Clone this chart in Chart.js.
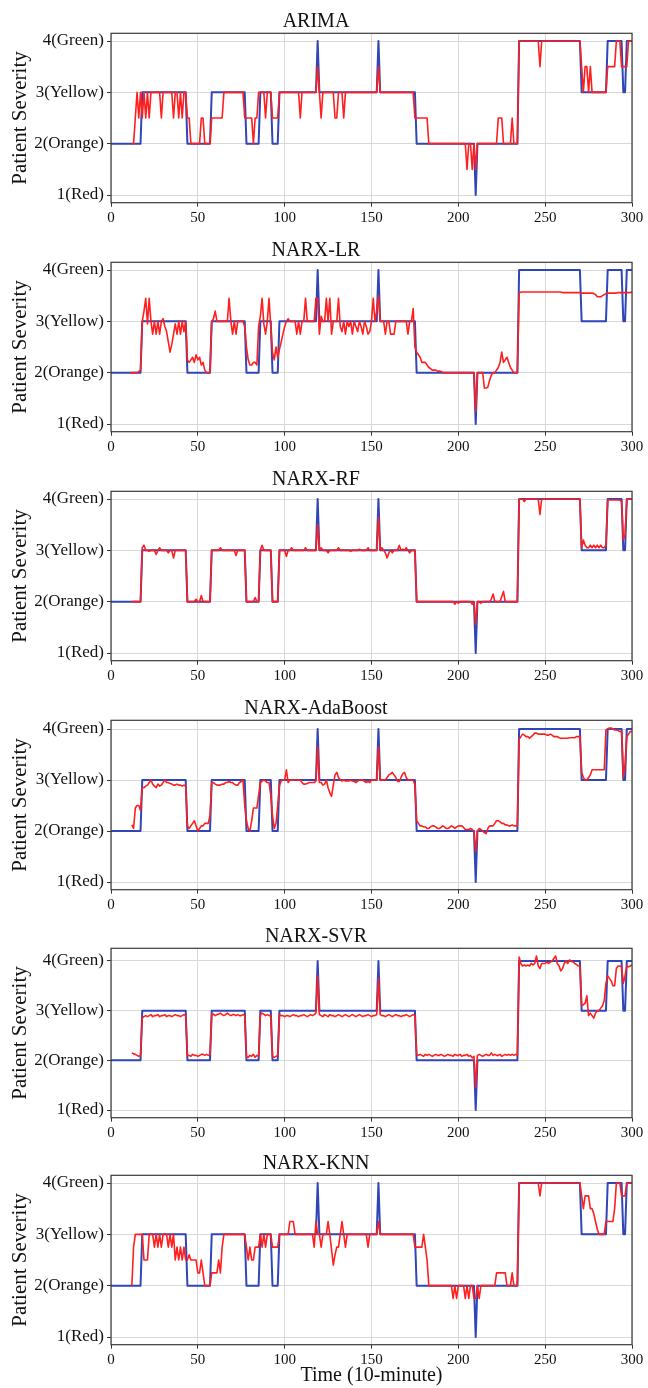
<!DOCTYPE html>
<html>
<head>
<meta charset="utf-8">
<script src="https://cdn.jsdelivr.net/npm/chart.js@4.4.0/dist/chart.umd.min.js"></script>
<style>
  body { margin: 0; background: #fff; width: 648px; height: 1388px; position: relative; overflow: hidden; }
  canvas { position: absolute; left: 0; }
</style>
</head>
<body>
<script>
// eixos
var xTicks = [0, 50, 100, 150, 200, 250, 300];
var yTicks = [1, 2, 3, 4];
var yTickLabels = ['1(Red)', '2(Orange)', '3(Yellow)', '4(Green)'];
var titles = ['ARIMA', 'NARX-LR', 'NARX-RF', 'NARX-AdaBoost', 'NARX-SVR', 'NARX-KNN'];

// severidade real (azul), passos de 10 minutos 0..300
var actual = [
  2,2,2,2,2,2,2,2,2,2,
  2,2,2,2,2,2,2,2,3,3,
  3,3,3,3,3,3,3,3,3,3,
  3,3,3,3,3,3,3,3,3,3,
  3,3,3,3,2,2,2,2,2,2,
  2,2,2,2,2,2,2,2,3,3,
  3,3,3,3,3,3,3,3,3,3,
  3,3,3,3,3,3,3,3,2,2,
  2,2,2,2,2,2,3,3,3,3,
  3,3,3,2,2,2,2,3,3,3,
  3,3,3,3,3,3,3,3,3,3,
  3,3,3,3,3,3,3,3,3,4,
  3,3,3,3,3,3,3,3,3,3,
  3,3,3,3,3,3,3,3,3,3,
  3,3,3,3,3,3,3,3,3,3,
  3,3,3,3,4,3,3,3,3,3,
  3,3,3,3,3,3,3,3,3,3,
  3,3,3,3,3,3,2,2,2,2,
  2,2,2,2,2,2,2,2,2,2,
  2,2,2,2,2,2,2,2,2,2,
  2,2,2,2,2,2,2,2,2,2,
  1,2,2,2,2,2,2,2,2,2,
  2,2,2,2,2,2,2,2,2,2,
  2,2,2,2,2,4,4,4,4,4,
  4,4,4,4,4,4,4,4,4,4,
  4,4,4,4,4,4,4,4,4,4,
  4,4,4,4,4,4,4,4,4,4,
  4,3,3,3,3,3,3,3,3,3,
  3,3,3,3,3,3,4,4,4,4,
  4,4,4,4,4,3,3,4,4,4,
  4
];

// previsoes (vermelho)
var predARIMA = [
  null,null,null,null,null,null,null,null,null,null,
  null,null,2,2,2.5,3,2.5,3,2.5,3,
  2.5,3,2.5,3,3,3,3,3,3,2.5,
  3,3,3,3,3,3,2.5,3,3,2.5,
  3,2.5,3,3,2.5,2.5,2,2,2,2,
  2,2,2.5,2.5,2,2,2,2,2.5,2.5,
  2.5,2.5,2.5,2.5,2.5,3,3,3,3,3,
  3,3,3,3,3,3,3,2.5,2.5,2.5,
  2.5,2.5,2,2.5,2.5,3,3,3,3,2.5,
  3,3,3,2.5,2.5,2.5,2.5,3,3,3,
  3,3,3,3,3,3,3,3,3,2.5,
  3,3,3,3,3,3,3,3,3,3.5,
  3,2.5,3,3,3,3,3,3,3,2.5,
  2.5,3,3,3,2.5,3,3,3,3,3,
  3,3,3,3,3,3,3,3,3,3,
  3,3,3,3,3.5,3,3,3,3,3,
  3,3,3,3,3,3,3,3,3,3,
  3,3,3,3,3,2.5,2.5,2.5,2.5,2.5,
  2.5,2.5,2.5,2,2,2,2,2,2,2,
  2,2,2,2,2,2,2,2,2,2,
  2,2,2,2,2,1.5,2,2,1.5,2,
  1.5,2,2,2,2,2,2,2,2,2,
  2,2,2,2.5,2.5,2.5,2,2,2,2,
  2,2.5,2,2,2,4,4,4,4,4,
  4,4,4,4,4,4,4,3.5,4,4,
  4,4,4,4,4,4,4,4,4,4,
  4,4,4,4,4,4,4,4,4,4,
  4,3.5,3,3.5,3.5,3,3.5,3,3,3,
  3,3,3,3,3,3,3.5,3.5,3.5,3.5,
  3.5,4,4,4,3.5,3.5,3.5,3.5,4,4,
  4
];

var predLR = [
  null,null,null,null,null,null,null,null,null,null,
  null,2,2,2,2,2,2.02,2.05,3,3.2,
  3.45,2.95,3.45,3,2.75,3,2.75,3,2.75,3,
  3.05,2.9,2.8,2.6,2.4,2.55,2.75,2.95,2.75,3,
  2.75,3,2.8,3,2.25,2.2,2.25,2.3,2.2,2.35,
  2.25,2.3,2.15,2.2,2.05,2,2,2,3,3.05,
  3.2,3,3,3,3,3,3,3,3.45,3,
  2.75,3,2.75,3,3,3,3,2.9,2.5,2.25,
  2.15,2.15,2.2,2.2,2.15,2.9,3.1,3.45,2.95,2.75,
  3,3.45,2.9,2.4,2.25,2.5,2.3,2.45,2.6,2.75,
  2.9,3,3.05,3,3,3,3,2.75,3,2.75,
  3,3,3.45,3,3,3,3,3,3.45,3.45,
  2.75,3.1,3,3,3.45,3,3.45,2.75,3,3,
  3,3.45,2.9,2.8,3,2.75,3,2.9,3,2.75,
  3,2.9,2.8,3,2.9,2.75,3,2.9,2.75,2.8,
  3,3.45,3,3.2,3.5,3,3,3,2.75,3,
  3,2.75,2.75,2.75,3,3,3,3,3,3,
  3,2.75,3,3,3.25,2.5,2.4,2.35,2.3,2.2,
  2.2,2.2,2.15,2.1,2.08,2.05,2.05,2.05,2.03,2.03,
  2.02,2.01,2,2,2,2,2,2,2,2,
  2,2,2,2,2,2,2,2,2,2,
  1.25,2,2,2,2,1.7,1.7,1.72,1.85,1.95,
  2,2,2.05,2.1,2.2,2.4,2.2,2.25,2.3,2.2,
  2.1,2.05,2,2,2,3.55,3.57,3.57,3.57,3.57,
  3.57,3.57,3.57,3.57,3.57,3.57,3.57,3.57,3.57,3.57,
  3.57,3.57,3.57,3.57,3.57,3.57,3.57,3.57,3.57,3.57,
  3.56,3.56,3.56,3.56,3.56,3.56,3.56,3.56,3.56,3.56,
  3.56,3.55,3.55,3.55,3.55,3.55,3.55,3.55,3.54,3.52,
  3.48,3.48,3.48,3.5,3.52,3.54,3.55,3.55,3.55,3.55,
  3.55,3.55,3.56,3.56,3.56,3.56,3.56,3.56,3.56,3.56,
  3.57
];

var predRF = [
  null,null,null,null,null,null,null,null,null,null,
  null,null,2,2,2,2,2,2,3.05,3.1,
  3,3,2.98,3,3,3,2.92,3,3.05,3,
  3,3,3,2.95,3,3,2.85,3,3,3,
  3,3,3,3,2,2,2,2,2,2.05,
  2,2,2.12,2,2,2,2,2,3,3,
  3,3,3,3.05,3,3,3,3,3,3,
  3,3,2.9,3,3,3,3,3,2,2,
  2,2,2,2.08,2,2,3,3.1,3,3,
  3,3,3,2,2,2,2,3,3,3,
  3,2.88,3,3,3.05,3,3,3,3,3,
  3,3,3.05,3,3,3,3,3,3,3.5,
  3,3.05,3,3,3,2.95,3,3,3,3,
  3,3.05,3,3,3,3,3,3,2.98,3,
  3,3,3,3.02,3,3,3,3,3.05,3,
  3,3,3,3,3.65,3,3.05,3,2.95,2.85,
  2.95,3,2.95,3,3,3,3.1,3,3.02,3,
  3.05,3,2.95,3,3,3,2,2,2,2,
  2,2,2,2,2,2,2,2,2,2,
  2,2,2,2,2,2,2,2,1.95,2,
  1.97,2,2,2,2,2,2,2,1.95,2,
  1.55,2,2,1.97,2,2,2,2,2,2.05,
  2.15,2,2,2,2,2.1,2.2,2,2,2,
  2,2,2,2,2,4,4,4,3.95,4,
  4,4,4,4,4,4,4,3.7,4,4,
  4,4,4,4,4,4,4,4,4,4,
  4,4,4,4,4,4,4,4,4,4,
  4,3.05,3.2,3.1,3.05,3.05,3.1,3.05,3.1,3.05,
  3.1,3.05,3.1,3.05,3.05,3.1,3.98,3.98,3.98,3.98,
  3.98,3.98,3.98,3.98,3.95,3.2,3.3,4,4,4,
  4
];

var predAda = [
  null,null,null,null,null,null,null,null,null,null,
  null,null,2.12,2.05,2.45,2.5,2.5,2.4,2.85,2.85,
  2.88,2.9,2.95,3,2.92,2.88,2.85,2.92,2.88,2.9,
  2.95,3,2.95,2.95,2.93,2.92,2.9,2.9,2.92,2.9,
  2.9,2.88,2.9,2.88,2.1,2.05,2.1,2.15,2.2,2.1,
  2,2.05,2.1,2.1,2.15,2.15,2.15,2.3,2.95,2.95,
  2.92,2.9,2.9,2.9,2.92,2.92,2.95,2.95,2.97,2.95,
  2.95,2.92,2.9,2.9,2.95,2.97,3,2.5,2.2,2.05,
  2,2.2,2.45,2.45,2.45,2.7,2.95,2.98,3,2.98,
  2.95,2.95,2.7,2.3,2.05,2.15,2.5,2.9,2.98,3,
  3,3.2,2.95,3,3,3,3,3,3,3,
  2.95,2.92,2.92,2.93,2.95,2.95,2.95,2.95,2.98,3.65,
  2.95,2.95,2.9,2.92,3,2.85,2.75,2.68,2.9,3.1,
  3.15,3.05,3,2.98,3,2.98,2.98,2.98,3,2.98,
  2.97,2.95,2.98,3,3,3,2.97,2.95,2.97,2.95,
  3,3,3,3,3.65,3,3,3,3,3.05,
  3.1,3.12,3.15,3.1,3.05,2.97,2.97,3.05,3.12,3.15,
  3.05,3,3,3,3,2.9,2.2,2.15,2.1,2.1,
  2.08,2.08,2.05,2.05,2.08,2.1,2.1,2.08,2.05,2.05,
  2.07,2.1,2.08,2.05,2.05,2.07,2.1,2.08,2.05,2.08,
  2.1,2.1,2.1,2.07,2.03,2.03,2.03,2.05,2.03,2,
  1.6,2,2.05,2.03,2,1.97,1.95,2.05,2.1,2.1,
  2.1,2.15,2.2,2.2,2.18,2.15,2.15,2.12,2.12,2.1,
  2.1,2.12,2.1,2.1,2.1,3.8,3.85,3.9,3.88,3.85,
  3.85,3.82,3.85,3.88,3.92,3.92,3.9,3.9,3.9,3.9,
  3.9,3.88,3.88,3.9,3.88,3.85,3.85,3.85,3.83,3.82,
  3.82,3.82,3.82,3.82,3.83,3.83,3.83,3.83,3.85,3.85,
  3.85,3.15,3.05,3,3,3.05,3.1,3.2,3.2,3.2,
  3.2,3.2,3.2,3.2,3.2,3.98,4,4.02,4.02,4,
  3.98,3.98,3.97,3.95,3.95,3.05,3.3,3.85,3.9,3.95,
  3.95
];

var predSVR = [
  null,null,null,null,null,null,null,null,null,null,
  null,null,2.15,2.13,2.12,2.1,2.08,2.1,2.85,2.88,
  2.9,2.88,2.9,2.92,2.88,2.9,2.9,2.92,2.88,2.9,
  2.9,2.92,2.88,2.9,2.9,2.88,2.9,2.92,2.9,2.9,
  2.88,2.9,2.92,2.9,2.1,2.1,2.08,2.12,2.1,2.1,
  2.08,2.1,2.12,2.12,2.1,2.12,2.1,2.12,2.92,2.93,
  2.9,2.92,2.93,2.95,2.92,2.9,2.92,2.95,2.92,2.9,
  2.92,2.92,2.9,2.92,2.9,2.9,2.92,2.9,2.08,2.06,
  2.1,2.08,2.12,2.06,2.1,2.08,2.92,2.95,2.93,2.9,
  2.92,2.9,2.9,2.08,2.06,2.08,2.1,2.92,2.9,2.9,
  2.88,2.9,2.9,2.88,2.9,2.92,2.9,2.9,2.88,2.9,
  2.9,2.92,2.9,2.88,2.9,2.92,2.9,2.92,2.95,3.7,
  2.92,2.9,2.88,2.92,2.9,2.88,2.92,2.9,2.9,2.88,
  2.9,2.92,2.9,2.88,2.9,2.92,2.9,2.88,2.9,2.92,
  2.9,2.88,2.9,2.92,2.9,2.88,2.9,2.9,2.92,2.9,
  2.88,2.9,2.9,2.92,3.65,2.92,2.9,2.9,2.88,2.9,
  2.92,2.9,2.88,2.9,2.92,2.9,2.9,2.88,2.9,2.9,
  2.92,2.9,2.88,2.9,2.92,2.9,2.12,2.1,2.12,2.1,
  2.08,2.12,2.1,2.12,2.1,2.08,2.1,2.12,2.1,2.1,
  2.12,2.1,2.08,2.1,2.12,2.1,2.1,2.08,2.12,2.1,
  2.1,2.12,2.08,2.1,2.1,2.12,2.08,2.1,2.05,2.08,
  1.45,2.1,2.12,2.1,2.08,2.1,2.12,2.1,2.1,2.15,
  2.1,2.12,2.1,2.1,2.12,2.08,2.1,2.12,2.1,2.12,
  2.1,2.12,2.1,2.12,2.1,4.08,3.95,3.9,3.92,3.9,
  3.92,3.9,3.95,3.92,3.95,4.1,3.9,3.85,3.95,3.95,
  3.95,3.98,3.95,3.98,4,4.05,4.1,3.95,3.9,3.8,
  3.85,3.95,4,3.95,4.02,4,3.98,3.95,3.93,3.9,
  3.9,3.1,3.12,3.15,3.3,2.9,2.95,2.9,2.85,2.95,
  3,3,3.05,3.1,3.2,3.55,3.7,3.65,3.6,3.5,
  3.5,3.85,3.9,3.9,3.88,3.55,3.7,3.9,3.88,3.9,
  3.92
];

var predKNN = [
  null,null,null,null,null,null,null,null,null,null,
  null,null,2,2.75,3,3,3,3,3,2.5,
  2.5,2.5,3,3,3,2.75,3,2.75,3,2.75,
  3,3,3,2.75,3,2.75,3,2.5,2.75,2.5,
  2.75,2.5,2.75,2.5,2.5,2.6,2.5,2.5,2.5,2.5,
  2.25,2.25,2.5,2.25,2,2,2,2,2.25,2.25,
  2.25,2.25,2.5,2.25,2.75,3,3,3,3,3,
  3,3,3,3,3,3,3,3,2.75,2.5,
  2.75,2.5,2.5,2.75,2.75,2.75,3,2.75,3,2.75,
  3,3,3,2.75,2.75,2.75,2.75,3,3,3,
  3,3,3,3.25,3.25,3.25,3,3,3,3,
  3,3,3,3,3,3,3,2.75,3.25,3,
  3,2.75,3,3,3,3.25,3,2.7,2.4,2.6,
  2.75,2.75,3,3.25,3,2.75,3,3,3,3,
  3,3,3,3,3,3,3,3,2.75,3,
  3,3,3,3,3.25,3,3,3,3,3,
  3,3,3,3,3,3,3,3,3,3,
  3,3,3,3,3,2.75,2.75,2.75,2.75,2.75,
  3,2.75,2.5,2,2,2,2,2,2,2,
  2,2,2,2,2,2,2,1.75,2,1.75,
  2,2,2,2,1.75,2,1.75,2,2,1.75,
  1.75,2,1.75,2,2,2,2,2,2,2,
  2,2,2.25,2.25,2.25,2.25,2.25,2.25,2,2,
  2,2.25,2,2,2,4,4,4,4,4,
  4,4,4,4,4,4,4,3.75,4,4,
  4,4,4,4,4,4,4,4,4,4,
  4,4,4,4,4,4,4,4,4,4,
  4,3.75,3.5,3.75,3.75,3.75,3.5,3.5,3.4,3.25,
  3.1,3,3,3,3,3.25,3.25,3.25,3.25,3.25,
  3.5,4,4,4,3.75,3.75,3.75,4,4,4,
  4
];

var predictions = [predARIMA, predLR, predRF, predAda, predSVR, predKNN];

var serif = "'Liberation Serif', 'Times New Roman', serif";
var panelTops = [0, 229, 458, 687, 915, 1142];
var plotBottom = 202.7;

// moldura completa (topo e direita tambem)
var frame = {
  id: 'frame',
  afterDraw: function (chart) {
    var a = chart.chartArea, ctx = chart.ctx;
    ctx.save();
    ctx.strokeStyle = '#3a3a3a';
    ctx.lineWidth = 1.2;
    ctx.strokeRect(a.left, a.top, a.right - a.left, a.bottom - a.top);
    ctx.restore();
  }
};

function toPoints(arr) {
  return arr.map(function (v, t) { return { x: t, y: v }; });
}

function makeChart(i) {
  var last = i === titles.length - 1;
  var h = last ? 246 : 226;
  var canvas = document.createElement('canvas');
  canvas.width = 648;
  canvas.height = h;
  canvas.style.top = panelTops[i] + 'px';
  document.body.appendChild(canvas);

  var pred = predictions[i];
  var vals = actual.concat(pred.filter(function (v) { return v !== null; }));
  var lo = Math.min.apply(null, vals), hi = Math.max.apply(null, vals);
  var pad = (hi - lo) * 0.05;

  return new Chart(canvas.getContext('2d'), {
    type: 'line',
    data: {
      datasets: [
        { label: 'Actual', data: toPoints(actual), borderColor: '#2f45b8', borderWidth: 2,
          pointRadius: 0, tension: 0, order: 2, borderJoinStyle: 'round' },
        { label: 'Predicted', data: toPoints(pred), borderColor: '#ff1f1f', borderWidth: 1.6,
          pointRadius: 0, tension: 0, order: 1, borderJoinStyle: 'round' }
      ]
    },
    options: {
      responsive: false,
      animation: false,
      devicePixelRatio: 1,
      layout: { padding: { left: 0, right: 16, top: 0, bottom: 0 } },
      plugins: {
        legend: { display: false },
        tooltip: { enabled: false },
        title: { display: true, text: titles[i], color: '#111',
                 font: { family: serif, size: 20, weight: 'normal' },
                 padding: { top: 9.3, bottom: 0 } }
      },
      scales: {
        x: {
          type: 'linear', min: 0, max: 300,
          afterBuildTicks: function (s) { s.ticks = xTicks.map(function (v) { return { value: v }; }); },
          afterFit: function (s) { s.height = h - plotBottom; },
          ticks: { font: { family: serif, size: 15 }, color: '#111', padding: 2, maxRotation: 0 },
          grid: { color: '#d8d8d8', tickColor: '#333', tickLength: 4 },
          border: { display: false },
          title: { display: last, text: 'Time (10-minute)', color: '#111',
                   font: { family: serif, size: 20 }, padding: { top: 0, bottom: 0 } }
        },
        y: {
          min: lo - pad, max: hi + pad,
          afterBuildTicks: function (s) { s.ticks = yTicks.map(function (v) { return { value: v }; }); },
          afterFit: function (s) { s.width = 111; },
          ticks: { font: { family: serif, size: 17 }, color: '#111', padding: 3,
                   callback: function (v) { return yTickLabels[yTicks.indexOf(v)]; } },
          grid: { color: '#d8d8d8', tickColor: '#333', tickLength: 4 },
          border: { display: false },
          title: { display: true, text: 'Patient Severity', color: '#111',
                   font: { family: serif, size: 21 }, padding: { top: 8, bottom: 0 } }
        }
      }
    },
    plugins: [frame]
  });
}

for (var i = 0; i < titles.length; i++) makeChart(i);
</script>
</body>
</html>
